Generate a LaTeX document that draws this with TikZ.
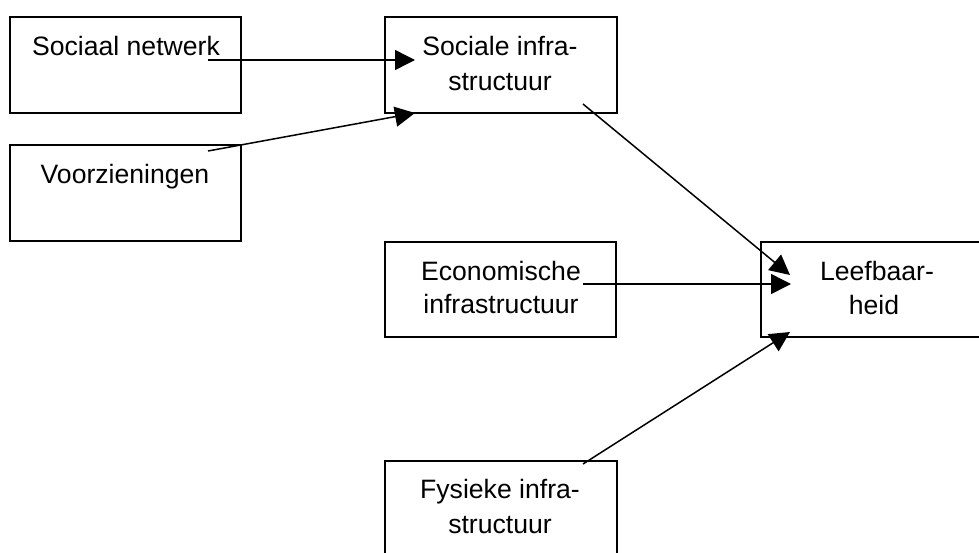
\documentclass[tikz,border=0pt]{standalone}
\usepackage{fontspec}
\setmainfont{Liberation Sans}
\usetikzlibrary{arrows.meta}
\begin{document}
\begin{tikzpicture}[x={(0.5pt,0)},y={(0,-0.5pt)},
  box/.style={draw,line width=1pt,inner sep=0pt,rectangle},
  lbl/.style={anchor=base,inner sep=0pt,font=\fontsize{13.3pt}{17.5pt}\selectfont},
  conn/.style={line width=0.75pt,-{Triangle[length=10pt,width=10pt]}}]
\useasboundingbox (0,0) rectangle (979,552);
\clip (0,0) rectangle (979,552);
% boxes
\node[box,minimum width=115.5pt,minimum height=48pt] (b1) at (125.5,65) {};
\node[box,minimum width=115.5pt,minimum height=48pt] (b2) at (125.5,193) {};
\node[box,minimum width=116pt,minimum height=48pt] (b3) at (501,65) {};
\node[box,minimum width=115.5pt,minimum height=47.5pt] (b4) at (500.5,289.5) {};
\node[box,minimum width=119.5pt,minimum height=47.5pt] (b5) at (880.5,289.5) {};
\node[box,minimum width=116pt,minimum height=69.5pt] (b6) at (501,530.5) {};
% labels
\node[lbl] (t1) at (126,55) {Sociaal netwerk};
\node[lbl] (t2) at (125,183) {Voorzieningen};
\node[lbl] (t3a) at (500,55) {Sociale infra-};
\node[lbl] (t3b) at (500,90) {structuur};
\node[lbl] (t4a) at (501,280) {Economische};
\node[lbl] (t4b) at (501,313) {infrastructuur};
\node[lbl] (t5a) at (877,280) {Leefbaar-};
\node[lbl] (t5b) at (874,314) {heid};
\node[lbl] (t6a) at (500,498) {Fysieke infra-};
\node[lbl] (t6b) at (500,533) {structuur};
% connector ends
\coordinate (s1) at (208,60);
\coordinate (e1) at (415,60);
\coordinate (s2) at (208,151);
\coordinate (e2) at (415,113);
\coordinate (s3) at (583,104);
\coordinate (e3) at (790,275);
\coordinate (s4) at (583,284);
\coordinate (e4) at (791,284);
\coordinate (s5) at (583,464);
\coordinate (e5) at (790,332);
\draw[conn] (s1) -- (e1);
\draw[conn] (s2) -- (e2);
\draw[conn] (s3) -- (e3);
\draw[conn] (s4) -- (e4);
\draw[conn] (s5) -- (e5);
\end{tikzpicture}
\end{document}
